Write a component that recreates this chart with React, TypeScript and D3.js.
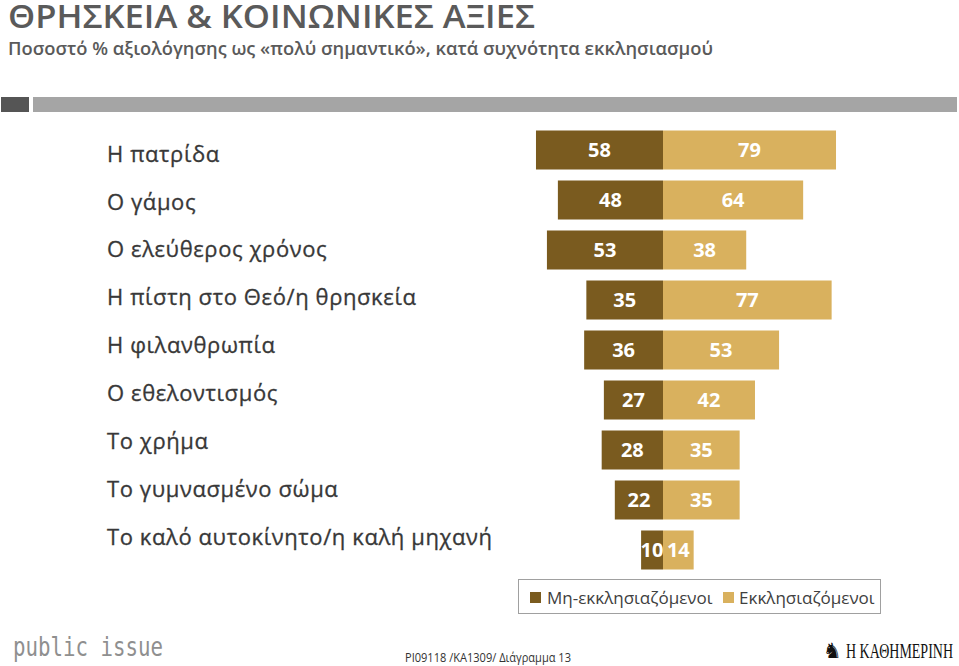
import React from "react";
import * as d3 from "d3";

const categories = [
  "Η πατρίδα",
  "Ο γάμος",
  "Ο ελεύθερος χρόνος",
  "Η πίστη στο Θεό/η θρησκεία",
  "Η φιλανθρωπία",
  "Ο εθελοντισμός",
  "Το χρήμα",
  "Το γυμνασμένο σώμα",
  "Το καλό αυτοκίνητο/η καλή μηχανή",
];
const nonChurch = [58, 48, 53, 35, 36, 27, 28, 22, 10];
const church = [79, 64, 38, 77, 53, 42, 35, 35, 14];
const seriesNames = ["Μη-εκκλησιαζόμενοι", "Εκκλησιαζόμενοι"];

const DARK = "#7a5b1f";
const LIGHT = "#d9b15e";
const FONT = "'Open Sans', 'Noto Sans', sans-serif";

export default function App() {
  const W = 959, H = 666;
  const cx = 663;
  const x = d3.scaleLinear().domain([0, 100]).range([0, 219]);
  const y = d3.scaleBand<number>().domain(d3.range(categories.length)).range([125, 575]).paddingInner(0.22).paddingOuter(0.11);
  const ly = d3.scalePoint<number>().domain(d3.range(categories.length)).range([154, 537]);

  return (
    <svg width={W} height={H} style={{ position: "absolute", left: 0, top: 0 }} fontFamily={FONT}>
      <rect width={W} height={H} fill="#fff" />
      <text x={8} y={27.5} fontSize={32.5} fill="#5a5a5a" fontWeight={600} textLength={527} lengthAdjust="spacingAndGlyphs">ΘΡΗΣΚΕΙΑ &amp; ΚΟΙΝΩΝΙΚΕΣ ΑΞΙΕΣ</text>
      <text x={8} y={55} fontSize={18} fill="#5a5a5a" fontWeight={600} textLength={705} lengthAdjust="spacingAndGlyphs">Ποσοστό % αξιολόγησης ως «πολύ σημαντικό», κατά συχνότητα εκκλησιασμού</text>
      <rect x={1} y={97} width={28} height={15} fill="#555" />
      <rect x={33} y={97} width={924} height={15} fill="#a5a5a5" />

      {categories.map((c, i) => (
        <text key={c} x={107} y={ly(i)} dy="0.35em" fontSize={22} letterSpacing={0.6} fill="#383838" stroke="#383838" strokeWidth={0.3}>{c}</text>
      ))}

      {categories.map((c, i) => {
        const y0 = y(i)!, h = y.bandwidth();
        const wl = x(nonChurch[i]), wr = x(church[i]);
        return (
          <g key={"b" + i}>
            <rect x={cx - wl} y={y0} width={wl} height={h} fill={DARK} />
            <rect x={cx} y={y0} width={wr} height={h} fill={LIGHT} />
            <text x={cx - wl / 2} y={y0 + h / 2} dy="0.35em" textAnchor="middle" fill="#fff" fontWeight={700} fontSize={20}>{nonChurch[i]}</text>
            <text x={cx + wr / 2} y={y0 + h / 2} dy="0.35em" textAnchor="middle" fill="#fff" fontWeight={700} fontSize={20}>{church[i]}</text>
          </g>
        );
      })}

      <rect x={518.5} y={579.5} width={362} height={34} fill="#fff" stroke="#a0a0a0" strokeWidth={1} />
      <rect x={530} y={592} width={11} height={11} fill={DARK} />
      <text x={547} y={598} dy="0.35em" fontSize={17} fill="#404040">{seriesNames[0]}</text>
      <rect x={723} y={592} width={11} height={11} fill={LIGHT} />
      <text x={739} y={598} dy="0.35em" fontSize={17} fill="#404040">{seriesNames[1]}</text>

      <text x={13} y={656} fontSize={27} fill="#8f8f8f" fontFamily="'DejaVu Sans Mono', monospace" textLength={150} lengthAdjust="spacingAndGlyphs">public issue</text>
      <text x={405} y={662} fontSize={12} fill="#333" textLength={166} lengthAdjust="spacingAndGlyphs">PI09118 /KA1309/ Διάγραμμα 13</text>
      <text x={823} y={658} fontSize={21} fill="#111" fontFamily="'DejaVu Sans', sans-serif">♞</text>
      <text x={846} y={658} fontSize={22} fill="#111" fontFamily="'Liberation Serif', serif" textLength={107} lengthAdjust="spacingAndGlyphs">Η ΚΑΘΗΜΕΡΙΝΗ</text>
    </svg>
  );
}
